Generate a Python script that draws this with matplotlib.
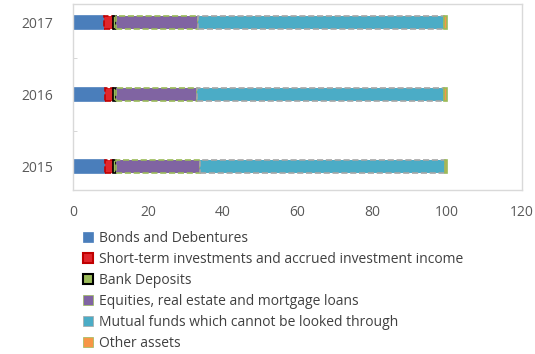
import numpy as np
import matplotlib
matplotlib.use('Agg')
import matplotlib.pyplot as plt
from matplotlib.patches import Patch

plt.rcParams['font.family'] = ['Open Sans', 'DejaVu Sans']

years = ["2015", "2016", "2017"]
series = [
    "Bonds and Debentures",
    "Short-term investments and accrued investment income",
    "Bank Deposits",
    "Equities, real estate and mortgage loans",
    "Mutual funds which cannot be looked through",
    "Other assets",
]
bonds = [8.6, 8.6, 8.3]
short_term = [2.1, 2.1, 2.4]
bank = [0.9, 0.8, 0.8]
equities = [22.4, 21.6, 22.0]
mutual = [65.4, 66.1, 65.7]
other = [0.6, 0.8, 0.8]
values = [bonds, short_term, bank, equities, mutual, other]

faces = ["#4a7ebb", "#e0262c", "#9bbb59", "#8064a2", "#4bacc6", "#f79646"]
edges = ["#4a7ebb", "#c00000", "#000000", "#9bbb59", "#a6a6a6", "#9bbb59"]
styles = ["solid", "dashed", "solid", "dashed", "dashed", "solid"]

fig = plt.figure(figsize=(5.35, 3.54), dpi=100)
ax = fig.add_axes([73 / 535, 1 - 190 / 354, 449 / 535, 186 / 354])

y = np.arange(len(years))
left = np.zeros(len(years))
for vals, fc, ec, ls in zip(values, faces, edges, styles):
    ax.barh(y, vals, left=left, height=0.18, color=fc, edgecolor=ec,
            linestyle=ls, linewidth=1.2)
    left += np.array(vals)

ax.set_xlim(0, 120)
ax.set_ylim(-0.32, 2.25)
ax.set_xticks(np.arange(0, 121, 20))
ax.set_yticks(y)
ax.set_yticklabels(years)
ax.set_yticks([0.5, 1.5], minor=True)
ax.tick_params(axis='both', labelsize=10, colors='#595959', length=0)
ax.tick_params(axis='x', pad=11)
ax.tick_params(axis='y', pad=14)
ax.tick_params(axis='y', which='minor', length=3, direction='in', color='#d0d0d0')
for s in ax.spines.values():
    s.set_color('#d9d9d9')
    s.set_linewidth(1)

handles = [Patch(facecolor=fc, edgecolor=ec, linewidth=1.5 if ec == "#000000" or fc == "#e0262c" else 0.5)
           for fc, ec in zip(faces, edges)]
leg = fig.legend(handles, series, loc='upper left', bbox_to_anchor=(83 / 535, 1 - 231 / 354),
                 frameon=False, fontsize=10, handlelength=0.75, handleheight=0.75,
                 handletextpad=0.4, labelspacing=0.43, borderaxespad=0, borderpad=0)
for t in leg.get_texts():
    t.set_color('#404040')

plt.savefig("out.png", dpi=100)
plt.close()
